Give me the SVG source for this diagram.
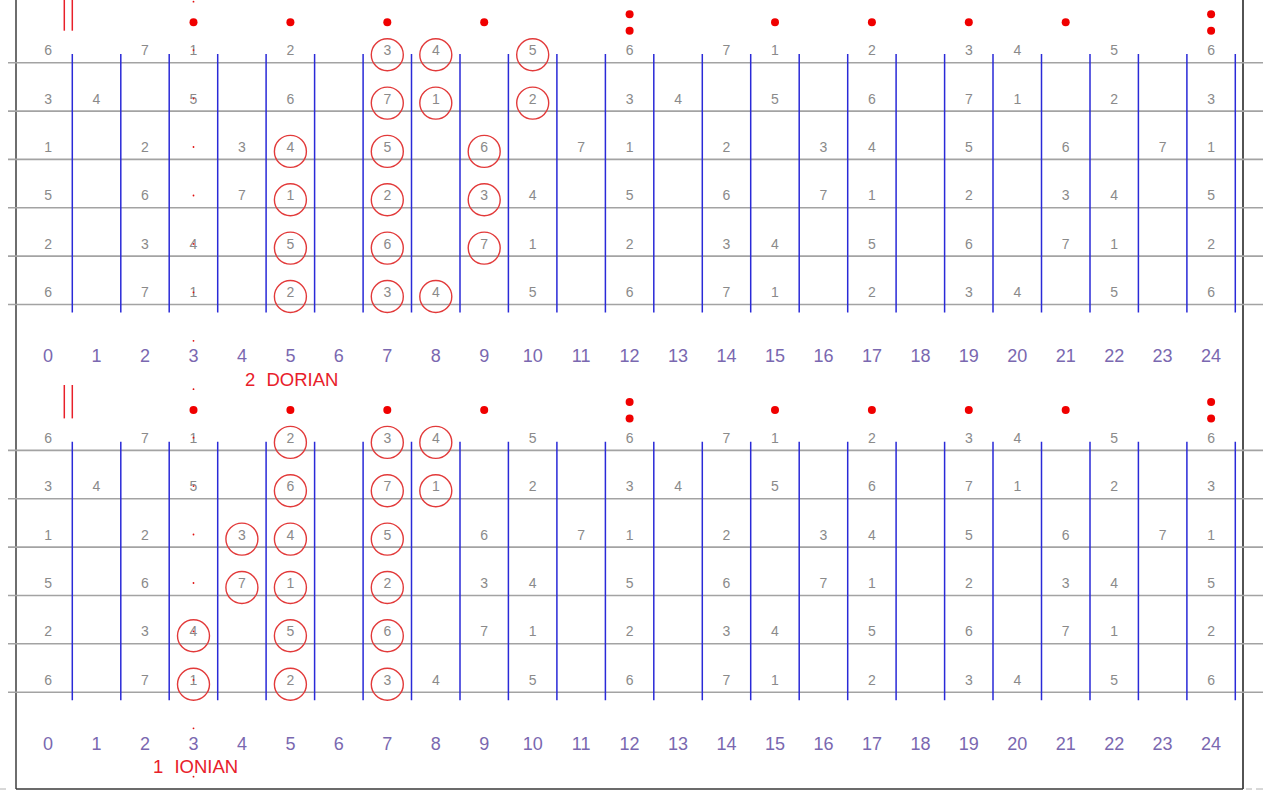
<svg xmlns="http://www.w3.org/2000/svg" width="1263" height="798" viewBox="0 0 1263 798">
<style>
.str{stroke:#a3a3a3;stroke-width:1.6}
.fr{stroke:#2a2ad8;stroke-width:1.5}
.n{font-family:"Liberation Sans",Arial,sans-serif;font-size:14px;fill:#8a8a8a;text-anchor:middle}
.fn{font-family:"Liberation Sans",Arial,sans-serif;font-size:18px;fill:#7a68b0;text-anchor:middle}
.lbl{font-family:"Liberation Sans",Arial,sans-serif;font-size:18.5px;fill:#e8202a;word-spacing:6px}
.c{fill:none;stroke:#e23a3a;stroke-width:1.4}
.pd{fill:#f00000}
.sd{fill:#e01010}
.bar{stroke:#e8202a;stroke-width:1.5}
</style>
<rect width="1263" height="798" fill="#ffffff"/>
<g id="border">
<line x1="16" y1="0" x2="16" y2="789" stroke="#6e6e6e" stroke-width="2"/>
<line x1="1243" y1="0" x2="1243" y2="789" stroke="#1a1a1a" stroke-width="1.5"/>
<line x1="16" y1="789" x2="1243" y2="789" stroke="#3a3a3a" stroke-width="1.6"/>
<line x1="0" y1="789" x2="6" y2="789" stroke="#b0b0b0" stroke-width="1"/>
<line x1="1246" y1="789" x2="1252" y2="789" stroke="#b0b0b0" stroke-width="1"/>
<line x1="1256" y1="789" x2="1263" y2="789" stroke="#b0b0b0" stroke-width="1"/>
</g>
<g id="connectors">
<g id="strings-dorian">
<line class="str" x1="8" y1="62.7" x2="1263" y2="62.7"/>
<line class="str" x1="8" y1="111.1" x2="1263" y2="111.1"/>
<line class="str" x1="8" y1="159.4" x2="1263" y2="159.4"/>
<line class="str" x1="8" y1="207.8" x2="1263" y2="207.8"/>
<line class="str" x1="8" y1="256.1" x2="1263" y2="256.1"/>
<line class="str" x1="8" y1="304.5" x2="1263" y2="304.5"/>
</g>
<g id="strings-ionian">
<line class="str" x1="8" y1="450.4" x2="1263" y2="450.4"/>
<line class="str" x1="8" y1="498.8" x2="1263" y2="498.8"/>
<line class="str" x1="8" y1="547.1" x2="1263" y2="547.1"/>
<line class="str" x1="8" y1="595.5" x2="1263" y2="595.5"/>
<line class="str" x1="8" y1="643.8" x2="1263" y2="643.8"/>
<line class="str" x1="8" y1="692.2" x2="1263" y2="692.2"/>
</g>
<g id="frets-dorian">
<path class="fr" d="M72.3 54V312.5M120.8 54V312.5M169.2 54V312.5M217.7 54V312.5M266.1 54V312.5M314.6 54V312.5M363.1 54V312.5M411.5 54V312.5M460 54V312.5M508.4 54V312.5M556.9 54V312.5M605.4 54V312.5M653.8 54V312.5M702.3 54V312.5M750.7 54V312.5M799.2 54V312.5M847.7 54V312.5M896.1 54V312.5M944.6 54V312.5M993 54V312.5M1041.5 54V312.5M1090 54V312.5M1138.4 54V312.5M1186.9 54V312.5M1235.3 54V312.5"/>
</g>
<g id="frets-ionian">
<path class="fr" d="M72.3 441.7V700.2M120.8 441.7V700.2M169.2 441.7V700.2M217.7 441.7V700.2M266.1 441.7V700.2M314.6 441.7V700.2M363.1 441.7V700.2M411.5 441.7V700.2M460 441.7V700.2M508.4 441.7V700.2M556.9 441.7V700.2M605.4 441.7V700.2M653.8 441.7V700.2M702.3 441.7V700.2M750.7 441.7V700.2M799.2 441.7V700.2M847.7 441.7V700.2M896.1 441.7V700.2M944.6 441.7V700.2M993 441.7V700.2M1041.5 441.7V700.2M1090 441.7V700.2M1138.4 441.7V700.2M1186.9 441.7V700.2M1235.3 441.7V700.2"/>
</g>
<g id="nut-marks">
<line class="bar" x1="64.3" y1="-3" x2="64.3" y2="30.7"/>
<line class="bar" x1="72.3" y1="-3" x2="72.3" y2="30.7"/>
<line class="bar" x1="64.3" y1="385" x2="64.3" y2="418.4"/>
<line class="bar" x1="72.3" y1="385" x2="72.3" y2="418.4"/>
</g>
</g>
<g id="position-dots">
<circle class="pd" cx="193.5" cy="22.3" r="4"/><circle class="pd" cx="290.4" cy="22.3" r="4"/><circle class="pd" cx="387.3" cy="22.3" r="4"/><circle class="pd" cx="484.2" cy="22.3" r="4"/>
<circle class="pd" cx="629.6" cy="14.3" r="4"/><circle class="pd" cx="629.6" cy="30.7" r="4"/>
<circle class="pd" cx="775" cy="22.3" r="4"/><circle class="pd" cx="871.9" cy="22.3" r="4"/><circle class="pd" cx="968.8" cy="22.3" r="4"/><circle class="pd" cx="1065.7" cy="22.3" r="4"/>
<circle class="pd" cx="1211.1" cy="14.3" r="4"/><circle class="pd" cx="1211.1" cy="30.7" r="4"/>
<circle class="pd" cx="193.5" cy="410" r="4"/><circle class="pd" cx="290.4" cy="410" r="4"/><circle class="pd" cx="387.3" cy="410" r="4"/><circle class="pd" cx="484.2" cy="410" r="4"/>
<circle class="pd" cx="629.6" cy="402" r="4"/><circle class="pd" cx="629.6" cy="418.4" r="4"/>
<circle class="pd" cx="775" cy="410" r="4"/><circle class="pd" cx="871.9" cy="410" r="4"/><circle class="pd" cx="968.8" cy="410" r="4"/><circle class="pd" cx="1065.7" cy="410" r="4"/>
<circle class="pd" cx="1211.1" cy="402" r="4"/><circle class="pd" cx="1211.1" cy="418.4" r="4"/>
</g>
<g id="notes-dorian">
<text class="n" x="48.1" y="55.2">6</text><text class="n" x="145" y="55.2">7</text><text class="n" x="193.5" y="55.2">1</text><text class="n" x="290.4" y="55.2">2</text><text class="n" x="387.3" y="55.2">3</text><text class="n" x="435.8" y="55.2">4</text><text class="n" x="532.7" y="55.2">5</text><text class="n" x="629.6" y="55.2">6</text><text class="n" x="726.5" y="55.2">7</text><text class="n" x="775" y="55.2">1</text><text class="n" x="871.9" y="55.2">2</text><text class="n" x="968.8" y="55.2">3</text><text class="n" x="1017.3" y="55.2">4</text><text class="n" x="1114.2" y="55.2">5</text><text class="n" x="1211.1" y="55.2">6</text>
<text class="n" x="48.1" y="103.6">3</text><text class="n" x="96.5" y="103.6">4</text><text class="n" x="193.5" y="103.6">5</text><text class="n" x="290.4" y="103.6">6</text><text class="n" x="387.3" y="103.6">7</text><text class="n" x="435.8" y="103.6">1</text><text class="n" x="532.7" y="103.6">2</text><text class="n" x="629.6" y="103.6">3</text><text class="n" x="678.1" y="103.6">4</text><text class="n" x="775" y="103.6">5</text><text class="n" x="871.9" y="103.6">6</text><text class="n" x="968.8" y="103.6">7</text><text class="n" x="1017.3" y="103.6">1</text><text class="n" x="1114.2" y="103.6">2</text><text class="n" x="1211.1" y="103.6">3</text>
<text class="n" x="48.1" y="151.9">1</text><text class="n" x="145" y="151.9">2</text><text class="n" x="241.9" y="151.9">3</text><text class="n" x="290.4" y="151.9">4</text><text class="n" x="387.3" y="151.9">5</text><text class="n" x="484.2" y="151.9">6</text><text class="n" x="581.1" y="151.9">7</text><text class="n" x="629.6" y="151.9">1</text><text class="n" x="726.5" y="151.9">2</text><text class="n" x="823.4" y="151.9">3</text><text class="n" x="871.9" y="151.9">4</text><text class="n" x="968.8" y="151.9">5</text><text class="n" x="1065.7" y="151.9">6</text><text class="n" x="1162.6" y="151.9">7</text><text class="n" x="1211.1" y="151.9">1</text>
<text class="n" x="48.1" y="200.3">5</text><text class="n" x="145" y="200.3">6</text><text class="n" x="241.9" y="200.3">7</text><text class="n" x="290.4" y="200.3">1</text><text class="n" x="387.3" y="200.3">2</text><text class="n" x="484.2" y="200.3">3</text><text class="n" x="532.7" y="200.3">4</text><text class="n" x="629.6" y="200.3">5</text><text class="n" x="726.5" y="200.3">6</text><text class="n" x="823.4" y="200.3">7</text><text class="n" x="871.9" y="200.3">1</text><text class="n" x="968.8" y="200.3">2</text><text class="n" x="1065.7" y="200.3">3</text><text class="n" x="1114.2" y="200.3">4</text><text class="n" x="1211.1" y="200.3">5</text>
<text class="n" x="48.1" y="248.6">2</text><text class="n" x="145" y="248.6">3</text><text class="n" x="193.5" y="248.6">4</text><text class="n" x="290.4" y="248.6">5</text><text class="n" x="387.3" y="248.6">6</text><text class="n" x="484.2" y="248.6">7</text><text class="n" x="532.7" y="248.6">1</text><text class="n" x="629.6" y="248.6">2</text><text class="n" x="726.5" y="248.6">3</text><text class="n" x="775" y="248.6">4</text><text class="n" x="871.9" y="248.6">5</text><text class="n" x="968.8" y="248.6">6</text><text class="n" x="1065.7" y="248.6">7</text><text class="n" x="1114.2" y="248.6">1</text><text class="n" x="1211.1" y="248.6">2</text>
<text class="n" x="48.1" y="297">6</text><text class="n" x="145" y="297">7</text><text class="n" x="193.5" y="297">1</text><text class="n" x="290.4" y="297">2</text><text class="n" x="387.3" y="297">3</text><text class="n" x="435.8" y="297">4</text><text class="n" x="532.7" y="297">5</text><text class="n" x="629.6" y="297">6</text><text class="n" x="726.5" y="297">7</text><text class="n" x="775" y="297">1</text><text class="n" x="871.9" y="297">2</text><text class="n" x="968.8" y="297">3</text><text class="n" x="1017.3" y="297">4</text><text class="n" x="1114.2" y="297">5</text><text class="n" x="1211.1" y="297">6</text>
</g>
<g id="circles-dorian">
<circle class="c" cx="387.3" cy="54.7" r="16"/><circle class="c" cx="435.8" cy="54.7" r="16"/><circle class="c" cx="532.7" cy="54.7" r="16"/>
<circle class="c" cx="387.3" cy="103.1" r="16"/><circle class="c" cx="435.8" cy="103.1" r="16"/><circle class="c" cx="532.7" cy="103.1" r="16"/>
<circle class="c" cx="290.4" cy="151.4" r="16"/><circle class="c" cx="387.3" cy="151.4" r="16"/><circle class="c" cx="484.2" cy="151.4" r="16"/>
<circle class="c" cx="290.4" cy="199.8" r="16"/><circle class="c" cx="387.3" cy="199.8" r="16"/><circle class="c" cx="484.2" cy="199.8" r="16"/>
<circle class="c" cx="290.4" cy="248.1" r="16"/><circle class="c" cx="387.3" cy="248.1" r="16"/><circle class="c" cx="484.2" cy="248.1" r="16"/>
<circle class="c" cx="290.4" cy="296.5" r="16"/><circle class="c" cx="387.3" cy="296.5" r="16"/><circle class="c" cx="435.8" cy="296.5" r="16"/>
</g>
<g id="notes-ionian">
<text class="n" x="48.1" y="442.9">6</text><text class="n" x="145" y="442.9">7</text><text class="n" x="193.5" y="442.9">1</text><text class="n" x="290.4" y="442.9">2</text><text class="n" x="387.3" y="442.9">3</text><text class="n" x="435.8" y="442.9">4</text><text class="n" x="532.7" y="442.9">5</text><text class="n" x="629.6" y="442.9">6</text><text class="n" x="726.5" y="442.9">7</text><text class="n" x="775" y="442.9">1</text><text class="n" x="871.9" y="442.9">2</text><text class="n" x="968.8" y="442.9">3</text><text class="n" x="1017.3" y="442.9">4</text><text class="n" x="1114.2" y="442.9">5</text><text class="n" x="1211.1" y="442.9">6</text>
<text class="n" x="48.1" y="491.3">3</text><text class="n" x="96.5" y="491.3">4</text><text class="n" x="193.5" y="491.3">5</text><text class="n" x="290.4" y="491.3">6</text><text class="n" x="387.3" y="491.3">7</text><text class="n" x="435.8" y="491.3">1</text><text class="n" x="532.7" y="491.3">2</text><text class="n" x="629.6" y="491.3">3</text><text class="n" x="678.1" y="491.3">4</text><text class="n" x="775" y="491.3">5</text><text class="n" x="871.9" y="491.3">6</text><text class="n" x="968.8" y="491.3">7</text><text class="n" x="1017.3" y="491.3">1</text><text class="n" x="1114.2" y="491.3">2</text><text class="n" x="1211.1" y="491.3">3</text>
<text class="n" x="48.1" y="539.6">1</text><text class="n" x="145" y="539.6">2</text><text class="n" x="241.9" y="539.6">3</text><text class="n" x="290.4" y="539.6">4</text><text class="n" x="387.3" y="539.6">5</text><text class="n" x="484.2" y="539.6">6</text><text class="n" x="581.1" y="539.6">7</text><text class="n" x="629.6" y="539.6">1</text><text class="n" x="726.5" y="539.6">2</text><text class="n" x="823.4" y="539.6">3</text><text class="n" x="871.9" y="539.6">4</text><text class="n" x="968.8" y="539.6">5</text><text class="n" x="1065.7" y="539.6">6</text><text class="n" x="1162.6" y="539.6">7</text><text class="n" x="1211.1" y="539.6">1</text>
<text class="n" x="48.1" y="588">5</text><text class="n" x="145" y="588">6</text><text class="n" x="241.9" y="588">7</text><text class="n" x="290.4" y="588">1</text><text class="n" x="387.3" y="588">2</text><text class="n" x="484.2" y="588">3</text><text class="n" x="532.7" y="588">4</text><text class="n" x="629.6" y="588">5</text><text class="n" x="726.5" y="588">6</text><text class="n" x="823.4" y="588">7</text><text class="n" x="871.9" y="588">1</text><text class="n" x="968.8" y="588">2</text><text class="n" x="1065.7" y="588">3</text><text class="n" x="1114.2" y="588">4</text><text class="n" x="1211.1" y="588">5</text>
<text class="n" x="48.1" y="636.3">2</text><text class="n" x="145" y="636.3">3</text><text class="n" x="193.5" y="636.3">4</text><text class="n" x="290.4" y="636.3">5</text><text class="n" x="387.3" y="636.3">6</text><text class="n" x="484.2" y="636.3">7</text><text class="n" x="532.7" y="636.3">1</text><text class="n" x="629.6" y="636.3">2</text><text class="n" x="726.5" y="636.3">3</text><text class="n" x="775" y="636.3">4</text><text class="n" x="871.9" y="636.3">5</text><text class="n" x="968.8" y="636.3">6</text><text class="n" x="1065.7" y="636.3">7</text><text class="n" x="1114.2" y="636.3">1</text><text class="n" x="1211.1" y="636.3">2</text>
<text class="n" x="48.1" y="684.7">6</text><text class="n" x="145" y="684.7">7</text><text class="n" x="193.5" y="684.7">1</text><text class="n" x="290.4" y="684.7">2</text><text class="n" x="387.3" y="684.7">3</text><text class="n" x="435.8" y="684.7">4</text><text class="n" x="532.7" y="684.7">5</text><text class="n" x="629.6" y="684.7">6</text><text class="n" x="726.5" y="684.7">7</text><text class="n" x="775" y="684.7">1</text><text class="n" x="871.9" y="684.7">2</text><text class="n" x="968.8" y="684.7">3</text><text class="n" x="1017.3" y="684.7">4</text><text class="n" x="1114.2" y="684.7">5</text><text class="n" x="1211.1" y="684.7">6</text>
</g>
<g id="circles-ionian">
<circle class="c" cx="290.4" cy="442.4" r="16"/><circle class="c" cx="387.3" cy="442.4" r="16"/><circle class="c" cx="435.8" cy="442.4" r="16"/>
<circle class="c" cx="290.4" cy="490.8" r="16"/><circle class="c" cx="387.3" cy="490.8" r="16"/><circle class="c" cx="435.8" cy="490.8" r="16"/>
<circle class="c" cx="241.9" cy="539.1" r="16"/><circle class="c" cx="290.4" cy="539.1" r="16"/><circle class="c" cx="387.3" cy="539.1" r="16"/>
<circle class="c" cx="241.9" cy="587.5" r="16"/><circle class="c" cx="290.4" cy="587.5" r="16"/><circle class="c" cx="387.3" cy="587.5" r="16"/>
<circle class="c" cx="193.5" cy="635.8" r="16"/><circle class="c" cx="290.4" cy="635.8" r="16"/><circle class="c" cx="387.3" cy="635.8" r="16"/>
<circle class="c" cx="193.5" cy="684.2" r="16"/><circle class="c" cx="290.4" cy="684.2" r="16"/><circle class="c" cx="387.3" cy="684.2" r="16"/>
</g>
<g id="fret-numbers-dorian">
<text class="fn" x="48.1" y="362.3">0</text><text class="fn" x="96.5" y="362.3">1</text><text class="fn" x="145" y="362.3">2</text><text class="fn" x="193.5" y="362.3">3</text><text class="fn" x="241.9" y="362.3">4</text><text class="fn" x="290.4" y="362.3">5</text><text class="fn" x="338.8" y="362.3">6</text><text class="fn" x="387.3" y="362.3">7</text><text class="fn" x="435.8" y="362.3">8</text><text class="fn" x="484.2" y="362.3">9</text><text class="fn" x="532.7" y="362.3">10</text><text class="fn" x="581.1" y="362.3">11</text><text class="fn" x="629.6" y="362.3">12</text><text class="fn" x="678.1" y="362.3">13</text><text class="fn" x="726.5" y="362.3">14</text><text class="fn" x="775" y="362.3">15</text><text class="fn" x="823.4" y="362.3">16</text><text class="fn" x="871.9" y="362.3">17</text><text class="fn" x="920.4" y="362.3">18</text><text class="fn" x="968.8" y="362.3">19</text><text class="fn" x="1017.3" y="362.3">20</text><text class="fn" x="1065.7" y="362.3">21</text><text class="fn" x="1114.2" y="362.3">22</text><text class="fn" x="1162.6" y="362.3">23</text><text class="fn" x="1211.1" y="362.3">24</text>
</g>
<g id="fret-numbers-ionian">
<text class="fn" x="48.1" y="750">0</text><text class="fn" x="96.5" y="750">1</text><text class="fn" x="145" y="750">2</text><text class="fn" x="193.5" y="750">3</text><text class="fn" x="241.9" y="750">4</text><text class="fn" x="290.4" y="750">5</text><text class="fn" x="338.8" y="750">6</text><text class="fn" x="387.3" y="750">7</text><text class="fn" x="435.8" y="750">8</text><text class="fn" x="484.2" y="750">9</text><text class="fn" x="532.7" y="750">10</text><text class="fn" x="581.1" y="750">11</text><text class="fn" x="629.6" y="750">12</text><text class="fn" x="678.1" y="750">13</text><text class="fn" x="726.5" y="750">14</text><text class="fn" x="775" y="750">15</text><text class="fn" x="823.4" y="750">16</text><text class="fn" x="871.9" y="750">17</text><text class="fn" x="920.4" y="750">18</text><text class="fn" x="968.8" y="750">19</text><text class="fn" x="1017.3" y="750">20</text><text class="fn" x="1065.7" y="750">21</text><text class="fn" x="1114.2" y="750">22</text><text class="fn" x="1162.6" y="750">23</text><text class="fn" x="1211.1" y="750">24</text>
</g>
<g id="center-dots">
<circle class="sd" cx="193.5" cy="1.7" r="0.9"/><circle class="sd" cx="193.5" cy="50.1" r="0.9"/><circle class="sd" cx="193.5" cy="98.6" r="0.9"/><circle class="sd" cx="193.5" cy="147" r="0.9"/><circle class="sd" cx="193.5" cy="195.5" r="0.9"/><circle class="sd" cx="193.5" cy="243.9" r="0.9"/><circle class="sd" cx="193.5" cy="292.3" r="0.9"/><circle class="sd" cx="193.5" cy="340.8" r="0.9"/><circle class="sd" cx="193.5" cy="389.2" r="0.9"/><circle class="sd" cx="193.5" cy="437.7" r="0.9"/><circle class="sd" cx="193.5" cy="486.1" r="0.9"/><circle class="sd" cx="193.5" cy="534.5" r="0.9"/><circle class="sd" cx="193.5" cy="583" r="0.9"/><circle class="sd" cx="193.5" cy="631.4" r="0.9"/><circle class="sd" cx="193.5" cy="679.9" r="0.9"/><circle class="sd" cx="193.5" cy="728.3" r="0.9"/><circle class="sd" cx="193.5" cy="776.7" r="0.9"/>
</g>
<g id="labels">
<text class="lbl" x="245" y="386">2 DORIAN</text>
<text class="lbl" x="153" y="773.3">1 IONIAN</text>
</g>
</svg>
